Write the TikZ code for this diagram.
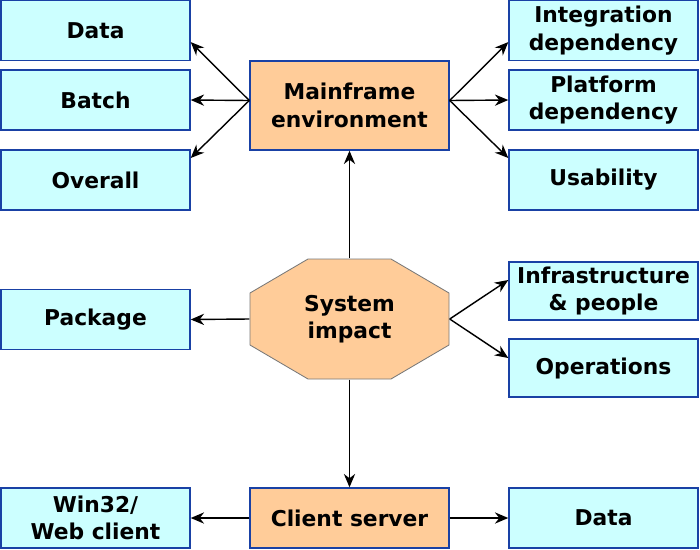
\documentclass[tikz,border=0pt]{standalone}
\usepackage{fontspec}
\setmainfont{DejaVu Sans}
\usetikzlibrary{arrows.meta}
\definecolor{lcyan}{RGB}{204,255,255}
\definecolor{lorange}{RGB}{255,204,153}
\definecolor{bdblue}{RGB}{25,65,165}
\definecolor{octgray}{RGB}{120,120,120}
\tikzset{
  leaf/.style={draw=bdblue,fill=lcyan,line width=1pt,minimum width=4.725cm,
    minimum height=1.5cm,align=center,inner sep=0pt,
    font=\fontsize{15.5}{19.5}\selectfont\bfseries},
  hub/.style={leaf,fill=lorange,minimum width=4.975cm},
  link/.style={-{Stealth[length=9.5pt,width=8pt]},line width=1pt}
}

\begin{document}
\begin{tikzpicture}[x=0.025cm,y=-0.025cm]
\useasboundingbox (0,0) rectangle (700,549);
% ---- left column ----
\node[leaf] (ldata) at (95.5,30.5) {Data};
\node[leaf] (batch) at (95.5,100) {Batch};
\node[leaf] (overall) at (95.5,180) {Overall};
\node[leaf] (package) at (95.5,319.5) {Package};
\node[leaf] (win) at (95.5,518) {Win32/\\Web client};
% ---- right column ----
\node[leaf] (integ) at (603.5,30.5) {Integration\\dependency};
\node[leaf] (platf) at (603.5,100) {Platform\\dependency};
\node[leaf] (usab) at (603.5,180) {Usability};
\node[leaf,minimum height=1.45cm] (infra) at (603.5,291) {Infrastructure\\\& people};
\node[leaf,minimum height=1.45cm] (ops) at (603.5,368) {Operations};
\node[leaf] (rdata) at (603.5,518) {Data};
% ---- middle column ----
\node[hub,minimum height=2.225cm] (mf) at (349.5,105.5) {Mainframe\\environment};
\fill[lorange,draw=octgray,line width=0.6pt] (308,259) -- (391,259) -- (449,293) -- (449,345)
  -- (391,379) -- (308,379) -- (250,345) -- (250,293) -- cycle;
\node[leaf,draw=none,fill=none,minimum width=4.975cm,minimum height=3cm] (sys) at (349.5,319) {System\\impact};
\node[hub] (cs) at (349.5,518) {Client server};
% ---- connectors ----
\draw[link] ([yshift=0.125cm]mf.west) -- ([yshift=-0.29cm]ldata.east);
\draw[link] ([yshift=0.125cm]mf.west) -- (batch.east);
\draw[link] ([yshift=0.125cm]mf.west) -- ([yshift=0.55cm]overall.east);
\draw[link] ([yshift=0.125cm]mf.east) -- ([yshift=-0.29cm]integ.east -| integ.west);
\draw[link] ([yshift=0.125cm]mf.east) -- (platf.west);
\draw[link] ([yshift=0.125cm]mf.east) -- ([yshift=0.55cm]usab.west);
\draw[link] (sys.north) -- (mf.south);
\draw[link] (sys.west) -- (package.east);
\draw[link] (sys.east) -- ([yshift=0.275cm]infra.west);
\draw[link] (sys.east) -- ([yshift=0.25cm]ops.west);
\draw[link] (sys.south) -- (cs.north);
\draw[link] (cs.west) -- (win.east);
\draw[link] (cs.east) -- (rdata.west);
\end{tikzpicture}
\end{document}
